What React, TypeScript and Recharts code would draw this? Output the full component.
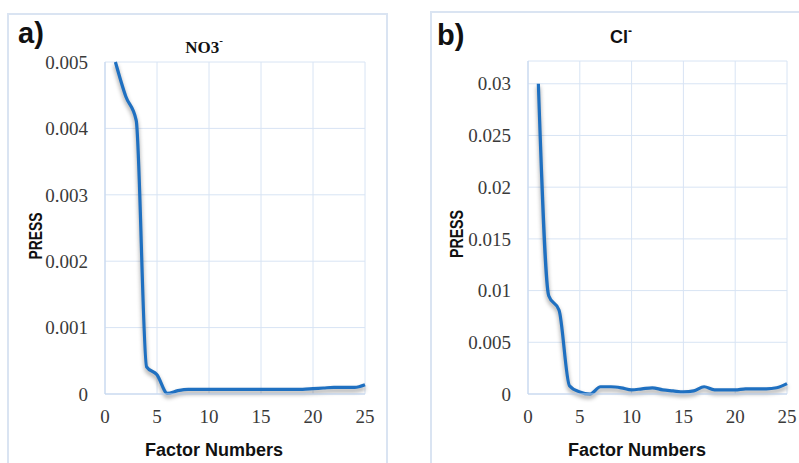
import React from 'react';
import { LineChart, Line, XAxis, YAxis, CartesianGrid } from 'recharts';

// factor numbers (x) and PRESS values
const FACTORS = [1, 2, 3, 4, 5, 6, 7, 8, 9, 10, 11, 12, 13, 14, 15, 16, 17, 18, 19, 20, 21, 22, 23, 24, 25];
const NO3_PRESS = [
  0.005, 0.00448, 0.00412, 0.00041, 0.00029, 0.00001, 0.00005, 0.00007, 0.00007, 0.00007,
  0.00007, 0.00007, 0.00007, 0.00007, 0.00007, 0.00007, 0.00007, 0.00007, 0.00007, 0.00008,
  0.00009, 0.0001, 0.0001, 0.0001, 0.00014,
];
const CL_PRESS = [
  0.03, 0.0095, 0.0081, 0.0008, 0.0002, 0.0, 0.0007, 0.0007, 0.0006, 0.0004,
  0.0005, 0.0006, 0.0004, 0.0003, 0.0002, 0.0003, 0.0007, 0.0004, 0.0004, 0.0004,
  0.0005, 0.0005, 0.0005, 0.0006, 0.001,
];
const X_TICKS = [0, 5, 10, 15, 20, 25];
const NO3_TICKS = [0, 0.001, 0.002, 0.003, 0.004, 0.005];
const CL_TICKS = [0, 0.005, 0.01, 0.015, 0.02, 0.025, 0.03];

const no3Data = FACTORS.map((f, i) => ({ factor: f, press: NO3_PRESS[i] }));
const clData = FACTORS.map((f, i) => ({ factor: f, press: CL_PRESS[i] }));

const LINE_COLOR = '#1f70c1';
const GRID_COLOR = '#d8e4f4';
const AXIS_COLOR = '#c3d5ee';
const FRAME_COLOR = '#dae4f2';

const tickStyle = { fontSize: 19, fill: '#3a3a3a', fontFamily: 'Liberation Serif' };

interface PanelProps {
  data: Array<{ factor: number; press: number }>;
  yTicks: number[];
  yMax: number;
  width: number;
  height: number;
  margin: { top: number; right: number; left: number; bottom: number };
}

const PressPanel: React.FC<PanelProps> = ({ data, yTicks, yMax, width, height, margin }) => (
  <LineChart width={width} height={height} data={data} margin={margin}>
    <CartesianGrid stroke={GRID_COLOR} strokeWidth={1} />
    <XAxis
      dataKey="factor"
      type="number"
      domain={[0, 25]}
      ticks={X_TICKS}
      interval={0}
      height={69}
      stroke={AXIS_COLOR}
      tickLine={false}
      tickSize={6}
      tickMargin={10}
      tick={tickStyle}
    />
    <YAxis
      type="number"
      domain={[0, yMax]}
      ticks={yTicks}
      interval={0}
      width={97}
      stroke={AXIS_COLOR}
      tickLine={false}
      tickSize={6}
      tickMargin={11}
      tick={tickStyle}
    />
    <Line
      className="press-line"
      type="monotone"
      dataKey="press"
      stroke={LINE_COLOR}
      strokeWidth={3.2}
      dot={false}
      activeDot={false}
      isAnimationActive={false}
    />
  </LineChart>
);

const sans = '"Liberation Sans", Arial, sans-serif';
const serif = '"Liberation Serif", "Times New Roman", serif';

export default function App() {
  return (
    <div style={{ position: 'absolute', left: 0, top: 0, width: 799, height: 463, overflow: 'hidden', background: '#fff' }}>
      <style>{`
        .press-line .recharts-curve { filter: drop-shadow(0px 3px 2px rgba(0,0,0,0.4)); }
        .recharts-cartesian-axis-tick-value, .recharts-cartesian-axis-tick-value tspan { font-family: "Liberation Serif", "Times New Roman", serif; }
      `}</style>

      {/* panel frames */}
      <div style={{ position: 'absolute', left: 7, top: 13, width: 381, height: 480, border: `2px solid ${FRAME_COLOR}`, boxSizing: 'border-box' }} />
      <div style={{ position: 'absolute', left: 430, top: 11, width: 400, height: 480, border: `2px solid ${FRAME_COLOR}`, boxSizing: 'border-box' }} />

      <div style={{ position: 'absolute', left: 8, top: 14 }}>
        <PressPanel data={no3Data} yTicks={NO3_TICKS} yMax={0.005} width={380} height={449}
          margin={{ top: 48, right: 23, left: 0, bottom: 0 }} />
      </div>
      <div style={{ position: 'absolute', left: 431, top: 12 }}>
        <PressPanel data={clData} yTicks={CL_TICKS} yMax={0.0322} width={368} height={451}
          margin={{ top: 49, right: 12, left: 0, bottom: 0 }} />
      </div>

      {/* titles and axis labels */}
      <svg width={799} height={463} style={{ position: 'absolute', left: 0, top: 0, pointerEvents: 'none' }}>
        <text x={18} y={43} fontFamily={sans} fontWeight="bold" fontSize={29} fill="#111">a)</text>
        <text x={437} y={45} fontFamily={sans} fontWeight="bold" fontSize={29} fill="#111">b)</text>

        <text x={204} y={53} textAnchor="middle" fontFamily={serif} fontWeight="bold" fontSize={17} fill="#111">
          NO3<tspan fontSize={11} dy={-9}>-</tspan>
        </text>
        <text x={621} y={43} textAnchor="middle" fontFamily={sans} fontWeight="bold" fontSize={18} fill="#111">
          Cl<tspan fontSize={12} dy={-8}>-</tspan>
        </text>

        <text x={42} y={236} transform="rotate(-90 42 236)" textAnchor="middle" fontFamily={sans} fontWeight="bold"
          fontSize={19} textLength={47} lengthAdjust="spacingAndGlyphs" fill="#111">PRESS</text>
        <text x={463} y={234} transform="rotate(-90 463 234)" textAnchor="middle" fontFamily={sans} fontWeight="bold"
          fontSize={19} textLength={48} lengthAdjust="spacingAndGlyphs" fill="#111">PRESS</text>

        <text x={214} y={456} textAnchor="middle" fontFamily={sans} fontWeight="bold" fontSize={18} fill="#111">Factor Numbers</text>
        <text x={637} y={456} textAnchor="middle" fontFamily={sans} fontWeight="bold" fontSize={18} fill="#111">Factor Numbers</text>
      </svg>
    </div>
  );
}
